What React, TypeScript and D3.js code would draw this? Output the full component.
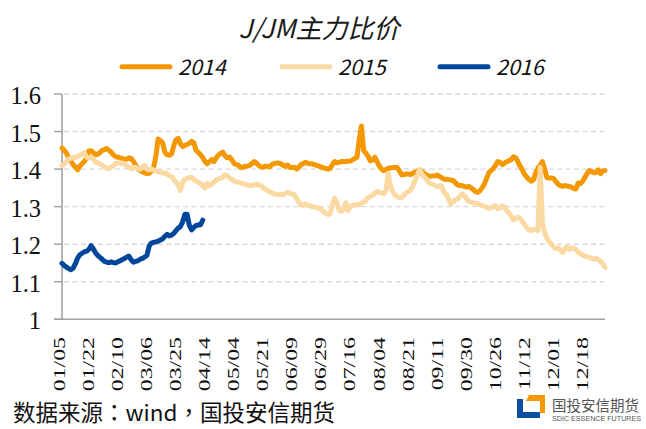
import React from "react";
import * as d3 from "d3";

// trading-day axis, one label every 13 sessions
const dates = ["01/05", "01/22", "02/10", "03/06", "03/25", "04/14", "05/04", "05/21", "06/09", "06/29",
  "07/16", "08/04", "08/21", "09/11", "09/30", "10/26", "11/12", "12/01", "12/18"];
const labelStep = 13;
const dayCount = 244;
const yTicks = [1, 1.1, 1.2, 1.3, 1.4, 1.5, 1.6];

const s2014 = [
  1.456, 1.450, 1.442, 1.430, 1.421, 1.412, 1.405, 1.398, 1.408, 1.414,
  1.420, 1.430, 1.448, 1.449, 1.444, 1.438, 1.440, 1.444, 1.450, 1.452, 1.455, 1.450, 1.445, 1.438, 1.433, 1.432, 1.430,
  1.428, 1.426, 1.427, 1.430, 1.428, 1.420, 1.410, 1.400, 1.396, 1.393, 1.390, 1.388, 1.389, 1.394, 1.405, 1.434, 1.480, 1.476,
  1.470, 1.445, 1.438, 1.437, 1.440, 1.462, 1.478, 1.482, 1.468, 1.460, 1.463, 1.466, 1.468, 1.474, 1.470, 1.450, 1.444,
  1.438, 1.430, 1.420, 1.414, 1.420, 1.425, 1.420, 1.430, 1.437, 1.442, 1.445, 1.435, 1.430, 1.432, 1.425, 1.415, 1.412,
  1.410, 1.404, 1.405, 1.407, 1.408, 1.410, 1.415, 1.420, 1.416, 1.410, 1.406, 1.405, 1.408, 1.407, 1.406, 1.412, 1.415, 1.416,
  1.416, 1.414, 1.410, 1.407, 1.411, 1.405, 1.404, 1.405, 1.400, 1.405, 1.412, 1.415, 1.418, 1.415, 1.414, 1.414, 1.412,
  1.410, 1.408, 1.405, 1.403, 1.402, 1.400, 1.402, 1.412, 1.420, 1.417, 1.418, 1.420, 1.420, 1.420, 1.421, 1.421, 1.425, 1.428,
  1.432, 1.478, 1.515, 1.450, 1.442, 1.434, 1.422, 1.424, 1.432, 1.420, 1.408, 1.400, 1.396, 1.399, 1.403, 1.403, 1.404,
  1.404, 1.404, 1.395, 1.385, 1.385, 1.387, 1.387, 1.385, 1.389, 1.392, 1.394, 1.398, 1.394, 1.388, 1.385, 1.382, 1.381, 1.382,
  1.382, 1.384, 1.380, 1.377, 1.373, 1.373, 1.372, 1.371, 1.370, 1.364, 1.358, 1.356, 1.356, 1.354, 1.352, 1.354, 1.350,
  1.346, 1.340, 1.338, 1.342, 1.350, 1.360, 1.375, 1.390, 1.396, 1.401, 1.410, 1.420, 1.418, 1.412, 1.416, 1.420, 1.422,
  1.425, 1.433, 1.430, 1.420, 1.408, 1.398, 1.386, 1.378, 1.372, 1.368, 1.372, 1.390, 1.403, 1.410, 1.420, 1.400, 1.377, 1.376,
  1.376, 1.375, 1.367, 1.360, 1.356, 1.354, 1.356, 1.355, 1.354, 1.352, 1.348, 1.347, 1.363, 1.361, 1.368, 1.378, 1.388,
  1.396, 1.393, 1.390, 1.391, 1.398, 1.388, 1.395, 1.396,
];

const s2015 = [
  1.409, 1.414, 1.420, 1.426, 1.429, 1.431, 1.431, 1.433, 1.437, 1.440,
  1.443, 1.432, 1.429, 1.431, 1.428, 1.418, 1.417, 1.414, 1.410, 1.406, 1.403, 1.401, 1.405, 1.409, 1.415, 1.416, 1.416,
  1.416, 1.413, 1.409, 1.405, 1.401, 1.404, 1.405, 1.400, 1.400, 1.405, 1.410, 1.400, 1.398, 1.400, 1.397, 1.395, 1.393, 1.391,
  1.389, 1.390, 1.387, 1.383, 1.380, 1.372, 1.365, 1.358, 1.343, 1.365, 1.373, 1.376, 1.377, 1.378, 1.373, 1.368, 1.365,
  1.362, 1.356, 1.350, 1.363, 1.356, 1.360, 1.365, 1.371, 1.374, 1.376, 1.378, 1.385, 1.382, 1.376, 1.373, 1.368, 1.366,
  1.365, 1.363, 1.361, 1.360, 1.357, 1.356, 1.356, 1.358, 1.360, 1.358, 1.356, 1.351, 1.346, 1.343, 1.340, 1.336, 1.334, 1.333,
  1.332, 1.333, 1.332, 1.335, 1.338, 1.336, 1.333, 1.332, 1.322, 1.312, 1.305, 1.303, 1.307, 1.304, 1.302, 1.300, 1.299,
  1.298, 1.296, 1.294, 1.286, 1.283, 1.279, 1.281, 1.305, 1.322, 1.310, 1.290, 1.287, 1.293, 1.311, 1.290, 1.300, 1.304, 1.305,
  1.305, 1.305, 1.309, 1.312, 1.316, 1.325, 1.327, 1.330, 1.336, 1.340, 1.338, 1.336, 1.334, 1.345, 1.389, 1.355, 1.340,
  1.331, 1.326, 1.325, 1.324, 1.330, 1.337, 1.340, 1.344, 1.355, 1.370, 1.384, 1.399, 1.387, 1.380, 1.374, 1.365, 1.361, 1.359,
  1.357, 1.353, 1.356, 1.354, 1.337, 1.334, 1.320, 1.307, 1.313, 1.318, 1.320, 1.327, 1.334, 1.330, 1.322, 1.314, 1.312,
  1.311, 1.309, 1.308, 1.305, 1.303, 1.301, 1.298, 1.296, 1.296, 1.300, 1.302, 1.295, 1.297, 1.302, 1.300, 1.290, 1.283,
  1.275, 1.264, 1.268, 1.272, 1.270, 1.260, 1.253, 1.244, 1.238, 1.236, 1.240, 1.239, 1.236, 1.405, 1.255, 1.232, 1.215, 1.207,
  1.200, 1.192, 1.188, 1.190, 1.185, 1.178, 1.188, 1.193, 1.186, 1.190, 1.189, 1.186, 1.178, 1.175, 1.171, 1.168, 1.166,
  1.165, 1.162, 1.160, 1.162, 1.159, 1.155, 1.148, 1.138,
];

const s2016 = [
  1.149, 1.143, 1.139, 1.135, 1.132, 1.136, 1.148, 1.163, 1.172, 1.176,
  1.180, 1.181, 1.186, 1.196, 1.188, 1.177, 1.170, 1.165, 1.160, 1.154, 1.152, 1.151, 1.153, 1.151, 1.150, 1.153, 1.156,
  1.159, 1.162, 1.166, 1.168, 1.158, 1.152, 1.154, 1.156, 1.160, 1.162, 1.166, 1.170, 1.195, 1.203, 1.205, 1.206, 1.208, 1.211,
  1.214, 1.221, 1.226, 1.222, 1.224, 1.229, 1.236, 1.243, 1.247, 1.260, 1.280, 1.280, 1.250, 1.238, 1.245, 1.250, 1.251,
  1.252, 1.264,
];

const series = [
  {name: "2014", color: "#F39800", values: s2014},
  {name: "2015", color: "#FAD9A2", values: s2015},
  {name: "2016", color: "#00469B", values: s2016},
];

const W = 646, H = 429;
const left = 62, right = 605, top = 94, bottom = 319.3;

const sans = "'Noto Sans CJK SC', 'Noto Sans', sans-serif";
const serif = "'Liberation Serif', 'DejaVu Serif', serif";

export default function App() {
  const x = d3.scaleLinear().domain([0, dayCount - 1]).range([left, right]);
  const y = d3.scaleLinear().domain([1, 1.6]).range([bottom, top]);

  const line = d3.line<number>()
    .x((d, i) => x(i))
    .y(d => y(d));

  // legend slots
  const legendX = [122, 282, 440];

  return (
    <svg width={W} height={H} style={{position: "absolute", left: 0, top: 0, background: "#fff"}}>
      <text x={319} y={38} textAnchor="middle" fontFamily={sans} fontSize={26}
            fontStyle="italic" fill="#1a1a1a">J/JM主力比价</text>

      {series.map((s, i) => (
        <g key={s.name}>
          <line x1={legendX[i]} x2={legendX[i] + 48} y1={66.7} y2={66.7}
                stroke={s.color} strokeWidth={5} strokeLinecap="round"/>
          <text x={legendX[i] + 56} y={75} fontFamily={sans} fontSize={21.5}
                fontStyle="italic" fill="#111">{s.name}</text>
        </g>
      ))}

      {/* gridlines */}
      {yTicks.filter(t => t > 1).map(t => (
        <line key={"g" + t} x1={left + 2} x2={right} y1={y(t)} y2={y(t)}
              stroke="#d9d9d9" strokeWidth={1.4} strokeDasharray="5,3.5"/>
      ))}

      {/* y axis */}
      <line x1={left} x2={left} y1={top} y2={bottom} stroke="#a0a0a0" strokeWidth={1.6}/>
      {yTicks.map(t => (
        <g key={"t" + t}>
          <line x1={left - 8} x2={left} y1={y(t)} y2={y(t)} stroke="#a0a0a0" strokeWidth={1.4}/>
          <text x={41} y={y(t) + 10} textAnchor="end" fontFamily={serif} fontSize={24.5}
                fill="#111">{String(t)}</text>
        </g>
      ))}
      <line x1={left - 8} x2={right} y1={bottom} y2={bottom} stroke="#a0a0a0" strokeWidth={1.6}/>

      {/* x labels */}
      {dates.map((d, i) => (
        <text key={d} transform={`translate(${x(i * labelStep) + 3},337) rotate(-90) scale(1.36,1)`}
              textAnchor="end" fontFamily={serif} fontSize={17.5} fill="#111">{d}</text>
      ))}

      {series.map(s => (
        <path key={"l" + s.name} d={line(s.values) || ""} fill="none" stroke={s.color}
              strokeWidth={5} strokeLinejoin="round" strokeLinecap="round"/>
      ))}

      <text x={13} y={421} fontFamily="'Noto Sans CJK TC', 'Noto Sans CJK SC', sans-serif" fontSize={22.5}
            fill="#111">数据来源：wind，国投安信期货</text>

      {/* logo */}
      <g>
        <path d="M517,399 L523,399 L523,412 L540,412 L540,418 L517,418 Z" fill="#0B4EA2"/>
        <path d="M529,395 L545,395 L545,413 L540,413 L540,401 L526,401 Z" fill="#F39800"/>
        <text x={552} y={411} fontFamily={sans} fontSize={14.5} fill="#555">国投安信期货</text>
        <text x={552} y={421} fontFamily="'Liberation Sans Narrow', 'Liberation Sans', sans-serif"
              fontSize={7} fill="#555" textLength={89} lengthAdjust="spacingAndGlyphs">SDIC ESSENCE FUTURES</text>
      </g>
    </svg>
  );
}
